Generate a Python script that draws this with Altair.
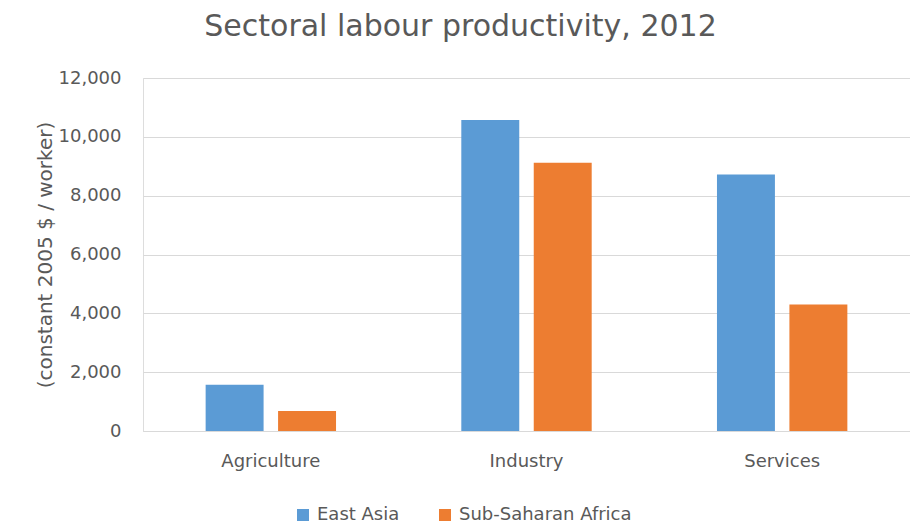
import altair as alt
import pandas as pd

sectors = ["Agriculture", "Industry", "Services"]
regions = ["East Asia", "Sub-Saharan Africa"]
east_asia = [1570, 10570, 8720]
ssa = [680, 9120, 4300]
colors = ["#5B9BD5", "#ED7D31"]

rows = []
for i, s in enumerate(sectors):
    rows.append({"sector": s, "region": regions[0], "value": east_asia[i]})
    rows.append({"sector": s, "region": regions[1], "value": ssa[i]})
df = pd.DataFrame(rows)

FONT = "DejaVu Sans"
GREY = "#595959"

chart = alt.Chart(df).mark_bar().encode(
    x=alt.X("sector:N", sort=sectors,
            scale=alt.Scale(paddingInner=0.49, paddingOuter=0.245),
            axis=alt.Axis(title=None, labelAngle=0, ticks=False, domainColor="#D9D9D9",
                          labelFontSize=18, labelColor=GREY, labelFont=FONT, labelPadding=21)),
    xOffset=alt.XOffset("region:N", sort=regions,
                        scale=alt.Scale(paddingInner=0.2, paddingOuter=0)),
    y=alt.Y("value:Q", scale=alt.Scale(domain=[0, 12000]),
            axis=alt.Axis(title="(constant 2005 $ / worker)", values=list(range(0, 12001, 2000)),
                          format=",d", domain=False, ticks=False, gridColor="#D9D9D9",
                          labelFontSize=18, labelColor=GREY, labelFont=FONT, labelPadding=22,
                          titleFontSize=20, titleColor=GREY, titleFont=FONT, titleFontWeight="normal",
                          titlePadding=3)),
    color=alt.Color("region:N", sort=regions,
                    scale=alt.Scale(domain=regions, range=colors),
                    legend=alt.Legend(title=None, orient="none", direction="horizontal",
                                      legendX=151, legendY=428, symbolType="square",
                                      symbolSize=144, symbolStrokeWidth=0, symbolOffset=0,
                                      labelFontSize=18, labelColor=GREY, labelFont=FONT,
                                      labelLimit=400, labelOffset=5, columnPadding=36)),
).properties(
    width=767, height=353,
    title=alt.TitleParams("Sectoral labour productivity, 2012", fontSize=30, font=FONT,
                          color=GREY, fontWeight="normal", anchor="middle", dx=-66, offset=27),
    autosize=alt.AutoSizeParams(type="none"),
    padding={"left": 143, "top": 78, "right": 0, "bottom": 92},
).configure_view(stroke=None).configure(background="white")

chart.save("out.html", embed_options={"renderer": "svg", "actions": False})
